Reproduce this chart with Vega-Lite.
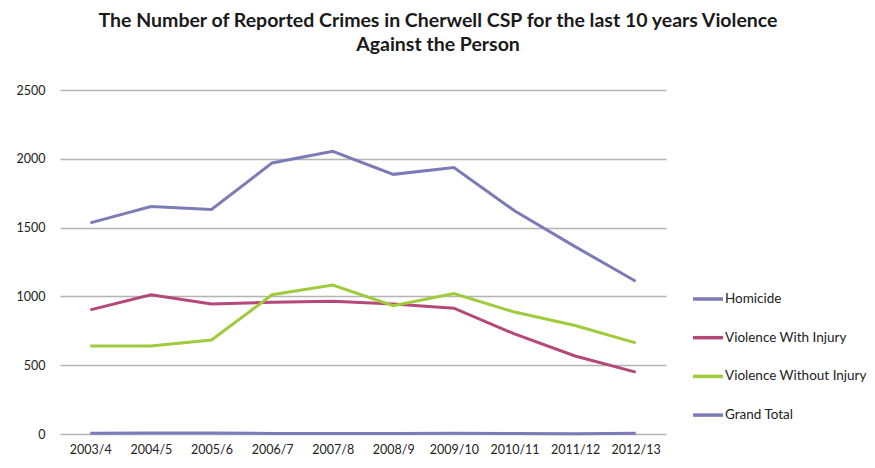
{
  "$schema": "https://vega.github.io/schema/vega-lite/v6.json",
  "autosize": {"type": "none"},
  "width": 606,
  "height": 344,
  "padding": {"left": 60, "top": 90, "right": 209, "bottom": 34},
  "background": "white",
  "title": {
    "text": ["The Number of Reported Crimes in Cherwell CSP for the last 10 years Violence", "Against the Person"],
    "font": "Lato",
    "fontSize": 19.5,
    "fontWeight": "bold",
    "color": "#1a1a1a",
    "anchor": "middle",
    "dx": 75,
    "offset": 29,
    "lineHeight": 24,
    "limit": 0
  },
  "data": {
    "values": [
      {"year": "2003/4", "series": "Homicide", "value": 5},
      {"year": "2004/5", "series": "Homicide", "value": 8},
      {"year": "2005/6", "series": "Homicide", "value": 7},
      {"year": "2006/7", "series": "Homicide", "value": 4},
      {"year": "2007/8", "series": "Homicide", "value": 3},
      {"year": "2008/9", "series": "Homicide", "value": 3},
      {"year": "2009/10", "series": "Homicide", "value": 6},
      {"year": "2010/11", "series": "Homicide", "value": 4},
      {"year": "2011/12", "series": "Homicide", "value": 2},
      {"year": "2012/13", "series": "Homicide", "value": 5},
      {"year": "2003/4", "series": "Violence With Injury", "value": 902},
      {"year": "2004/5", "series": "Violence With Injury", "value": 1012},
      {"year": "2005/6", "series": "Violence With Injury", "value": 945},
      {"year": "2006/7", "series": "Violence With Injury", "value": 957},
      {"year": "2007/8", "series": "Violence With Injury", "value": 965},
      {"year": "2008/9", "series": "Violence With Injury", "value": 945},
      {"year": "2009/10", "series": "Violence With Injury", "value": 914},
      {"year": "2010/11", "series": "Violence With Injury", "value": 727},
      {"year": "2011/12", "series": "Violence With Injury", "value": 567},
      {"year": "2012/13", "series": "Violence With Injury", "value": 450},
      {"year": "2003/4", "series": "Violence Without Injury", "value": 640},
      {"year": "2004/5", "series": "Violence Without Injury", "value": 640},
      {"year": "2005/6", "series": "Violence Without Injury", "value": 683},
      {"year": "2006/7", "series": "Violence Without Injury", "value": 1012},
      {"year": "2007/8", "series": "Violence Without Injury", "value": 1083},
      {"year": "2008/9", "series": "Violence Without Injury", "value": 933},
      {"year": "2009/10", "series": "Violence Without Injury", "value": 1021},
      {"year": "2010/11", "series": "Violence Without Injury", "value": 886},
      {"year": "2011/12", "series": "Violence Without Injury", "value": 788},
      {"year": "2012/13", "series": "Violence Without Injury", "value": 662},
      {"year": "2003/4", "series": "Grand Total", "value": 1534},
      {"year": "2004/5", "series": "Grand Total", "value": 1653},
      {"year": "2005/6", "series": "Grand Total", "value": 1632},
      {"year": "2006/7", "series": "Grand Total", "value": 1970},
      {"year": "2007/8", "series": "Grand Total", "value": 2055},
      {"year": "2008/9", "series": "Grand Total", "value": 1887},
      {"year": "2009/10", "series": "Grand Total", "value": 1937},
      {"year": "2010/11", "series": "Grand Total", "value": 1622},
      {"year": "2011/12", "series": "Grand Total", "value": 1362},
      {"year": "2012/13", "series": "Grand Total", "value": 1110}
    ]
  },
  "mark": {"type": "line", "strokeWidth": 3},
  "encoding": {
    "x": {
      "field": "year",
      "type": "ordinal",
      "sort": null,
      "scale": {"type": "point", "padding": 0.5},
      "axis": {
        "title": null,
        "labelAngle": 0,
        "ticks": false,
        "domain": false,
        "grid": false,
        "labelFont": "Lato",
        "labelFontSize": 12.5,
        "labelColor": "#222222",
        "labelPadding": 9
      }
    },
    "y": {
      "field": "value",
      "type": "quantitative",
      "scale": {"domain": [0, 2500], "nice": false},
      "axis": {
        "title": null,
        "values": [0, 500, 1000, 1500, 2000, 2500],
        "format": "d",
        "ticks": false,
        "domain": false,
        "grid": true,
        "gridColor": "#b4b4b4",
        "gridWidth": 1.5,
        "labelFont": "Lato",
        "labelFontSize": 12.5,
        "labelColor": "#222222",
        "labelPadding": 15
      }
    },
    "color": {
      "field": "series",
      "type": "nominal",
      "scale": {
        "domain": ["Homicide", "Violence With Injury", "Violence Without Injury", "Grand Total"],
        "range": ["#7c7bb7", "#b4487b", "#9fcb3c", "#7c7bb7"]
      },
      "legend": {
        "title": null,
        "orient": "none",
        "legendX": 631,
        "legendY": 192,
        "symbolType": "stroke",
        "symbolSize": 900,
        "symbolStrokeWidth": 3.5,
        "labelFont": "Lato",
        "labelFontSize": 13.5,
        "labelColor": "#222222",
        "labelOffset": 0,
        "rowPadding": 14.7
      }
    }
  },
  "config": {"view": {"stroke": null}}
}
